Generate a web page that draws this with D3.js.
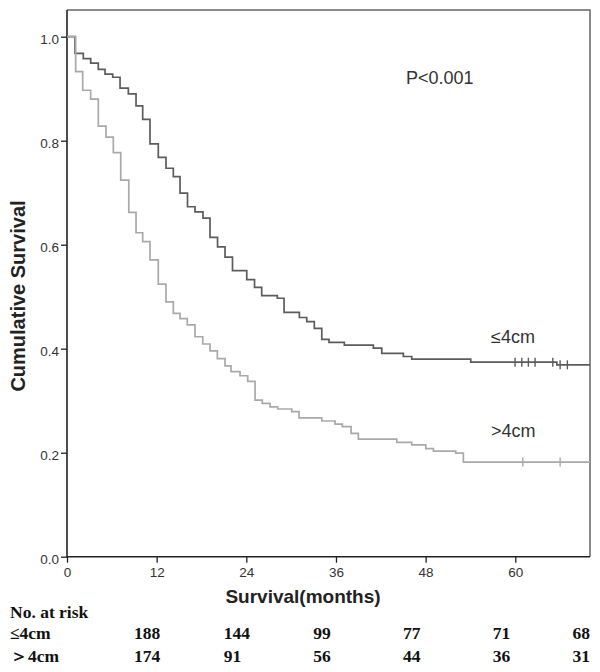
<!DOCTYPE html>
<html>
<head>
<meta charset="utf-8">
<script src="https://cdn.jsdelivr.net/npm/d3@7/dist/d3.min.js"></script>
<style>
  html, body { margin: 0; padding: 0; background: #fff; }
  svg { display: block; }
</style>
</head>
<body>
<svg id="chart" width="600" height="672"></svg>
<script>
// ---------------- DATA ----------------
const groups = ["≤4cm", "＞4cm"];
const curveLabels = ["≤4cm", ">4cm"];
const pLabel = "P<0.001";

// Kaplan–Meier steps: [month, survival after step]
const stepsLE4 = [
  [0, 1.0], [1.07, 0.968], [2.18, 0.958], [3.17, 0.949], [4.19, 0.937], [5.09, 0.928],
  [6.12, 0.922], [7.10, 0.901], [8.21, 0.890], [9.24, 0.867], [10.13, 0.841],
  [11.11, 0.794], [12.22, 0.768], [13.25, 0.747], [14.23, 0.731], [15.13, 0.699],
  [16.13, 0.673], [17.13, 0.663], [18.2, 0.651], [19.14, 0.614], [20.15, 0.596],
  [21.15, 0.576], [22.15, 0.550], [24.06, 0.533], [25.1, 0.518], [26.06, 0.502],
  [28.15, 0.497], [29.05, 0.470], [31.1, 0.460], [32.09, 0.452], [33.1, 0.439],
  [34.1, 0.418], [35.07, 0.412], [37.12, 0.407], [41.0, 0.401], [42.13, 0.391],
  [45.02, 0.385], [46.14, 0.380], [54.04, 0.374], [65.56, 0.369], [70, 0.369]
];
const stepsGT4 = [
  [0, 1.0], [1.16, 0.933], [2.10, 0.897], [3.17, 0.880], [4.19, 0.828], [5.22, 0.807],
  [6.2, 0.777], [7.19, 0.724], [8.27, 0.662], [9.24, 0.623], [10.13, 0.606],
  [11.11, 0.571], [12.22, 0.524], [13.25, 0.490], [14.23, 0.468], [15.13, 0.458],
  [16.1, 0.446], [17.13, 0.423], [18.17, 0.409], [19.14, 0.396], [20.12, 0.381],
  [21.15, 0.367], [21.95, 0.356], [23.16, 0.348], [24.19, 0.337], [25.17, 0.301],
  [26.14, 0.295], [27.18, 0.288], [28.2, 0.284], [30.08, 0.279], [31.06, 0.267],
  [34.1, 0.261], [35.88, 0.255], [36.85, 0.250], [38.02, 0.237], [39.0, 0.226],
  [44.14, 0.220], [46.14, 0.215], [48.02, 0.208], [49.04, 0.203], [52.03, 0.199],
  [53.05, 0.182], [70, 0.182]
];
const censorLE4 = [59.97, 60.87, 61.75, 62.65, 65.02, 66.0, 66.97];
const censorGT4 = [61.0, 66.0];

const xTicks = [0, 12, 24, 36, 48, 60];
const yTicks = [0, 0.2, 0.4, 0.6, 0.8, 1.0];
const riskTimes = [0, 12, 24, 36, 48, 60];
const riskLE4 = [188, 144, 99, 77, 71, 68];
const riskGT4 = [174, 91, 56, 44, 36, 31];

// ---------------- LAYOUT ----------------
const svg = d3.select("#chart");
const frameTop = 10;
const x = d3.scaleLinear().domain([0, 70]).range([67, 590]);
const y = d3.scaleLinear().domain([0, 1]).range([556.7, 36.7]);

const sans = "Arial, 'Liberation Sans', Helvetica, sans-serif";
const serif = "'Times New Roman', 'Liberation Serif', serif";

// frame (top/right) gray
svg.append("path")
  .attr("d", `M${x(0)},${frameTop}H${x(70)}V${y(0)}`)
  .attr("fill", "none").attr("stroke", "#666").attr("stroke-width", 1.5);

// axes
const yAxis = d3.axisLeft(y).tickValues(yTicks).tickFormat(d3.format(".1f"))
  .tickSize(6).tickPadding(2);
const gy = svg.append("g").attr("transform", `translate(${x(0)},0)`).call(yAxis);
gy.select(".domain").remove();
gy.selectAll("line").attr("stroke", "#222").attr("stroke-width", 1.3);
gy.selectAll("text").attr("font-family", sans).attr("font-size", 13.5)
  .attr("fill", "#333").attr("dy", "0.5em");

const xAxis = d3.axisBottom(x).tickValues(xTicks).tickSize(6).tickPadding(5);
const gx = svg.append("g").attr("transform", `translate(0,${y(0)})`).call(xAxis);
gx.select(".domain").remove();
gx.selectAll("line").attr("stroke", "#222").attr("stroke-width", 1.3);
gx.selectAll("text").attr("font-family", sans).attr("font-size", 13.5).attr("fill", "#333");

// left + bottom axis lines
svg.append("path")
  .attr("d", `M${x(0)},${frameTop}V${y(0)}H${x(70)}`)
  .attr("fill", "none").attr("stroke", "#222").attr("stroke-width", 1.6);

// curves
const line = d3.line().x(d => x(d[0])).y(d => y(d[1])).curve(d3.curveStepAfter);
const colors = ["#5c5c5c", "#a9a9a9"];
[stepsLE4, stepsGT4].forEach((s, i) => {
  svg.append("path").datum(s).attr("d", line)
    .attr("fill", "none").attr("stroke", colors[i]).attr("stroke-width", 1.7);
});

// censor marks
function survAt(steps, t) {
  let v = 1;
  for (const [m, s] of steps) { if (m <= t) v = s; }
  return v;
}
[[censorLE4, stepsLE4], [censorGT4, stepsGT4]].forEach(([cs, st], i) => {
  svg.append("g").selectAll("line").data(cs).join("line")
    .attr("x1", d => x(d)).attr("x2", d => x(d))
    .attr("y1", d => y(survAt(st, d)) - 4.5).attr("y2", d => y(survAt(st, d)) + 4.5)
    .attr("stroke", colors[i]).attr("stroke-width", 1.4);
});

// annotations
svg.append("text").attr("x", 406).attr("y", 84).text(pLabel)
  .attr("font-family", sans).attr("font-size", 18).attr("fill", "#333");
svg.append("text").attr("x", 491).attr("y", 343).text(curveLabels[0])
  .attr("font-family", sans).attr("font-size", 18).attr("fill", "#333");
svg.append("text").attr("x", 491).attr("y", 437).text(curveLabels[1])
  .attr("font-family", sans).attr("font-size", 18).attr("fill", "#333");

// axis titles
svg.append("text").attr("x", 303).attr("y", 603)
  .attr("text-anchor", "middle").text("Survival(months)")
  .attr("font-family", sans).attr("font-weight", "bold").attr("font-size", 19).attr("fill", "#222");
svg.append("text").attr("transform", "translate(25,296) rotate(-90)")
  .attr("text-anchor", "middle").text("Cumulative Survival")
  .attr("font-family", sans).attr("font-weight", "bold").attr("font-size", 20).attr("fill", "#222");

// risk table
const rowY = [639, 662];
svg.append("text").attr("x", 10).attr("y", 618).text("No. at risk")
  .attr("font-family", serif).attr("font-weight", "bold").attr("font-size", 17.5).attr("fill", "#111");
[riskLE4, riskGT4].forEach((row, i) => {
  svg.append("text").attr("x", 10).attr("y", rowY[i]).text(groups[i])
    .attr("font-family", serif).attr("font-weight", "bold").attr("font-size", 17.5).attr("fill", "#111");
  svg.append("g").selectAll("text").data(row).join("text")
    .attr("x", (d, j) => j === row.length - 1 ? 590 : x(riskTimes[j]) + 67)
    .attr("text-anchor", (d, j) => j === row.length - 1 ? "end" : "start")
    .attr("y", rowY[i]).text(d => d)
    .attr("font-family", serif).attr("font-weight", "bold").attr("font-size", 17.5).attr("fill", "#111");
});
</script>
</body>
</html>
